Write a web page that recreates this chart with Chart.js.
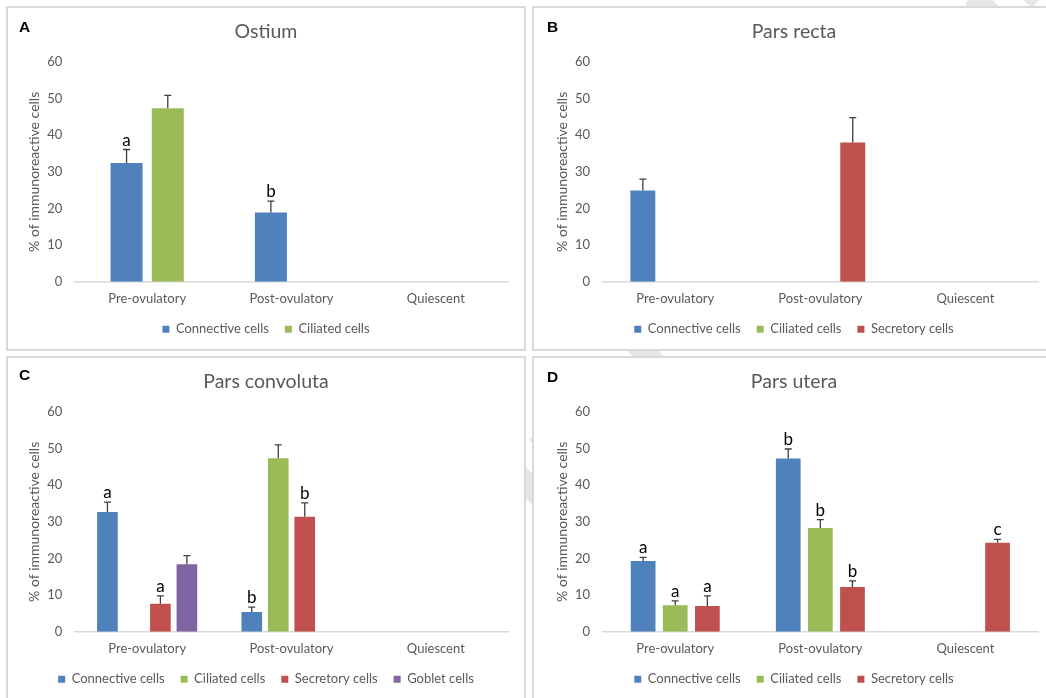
<!DOCTYPE html>
<html>
<head>
<meta charset="utf-8">
<script src="https://cdn.jsdelivr.net/npm/chart.js@4.4.0/dist/chart.umd.min.js"></script>
<style>
  html, body { margin: 0; padding: 0; background: #fff; }
  body { width: 1046px; height: 698px; position: relative; overflow: hidden; font-family: Lato, sans-serif; }
  .stripe {
    position: absolute; left: 744px; top: -265px; width: 50px; height: 1000px;
    transform: rotate(45deg);
    background: repeating-linear-gradient(to bottom, #e6e6e6 0 22px, transparent 22px 44px);
  }
  .panel { position: absolute; box-sizing: border-box; border: 2px solid #d9d9d9; background: #fff; }
  .panel canvas { position: absolute; left: 0; top: 0; }
  .tag { position: absolute; font: bold 15.5px "Liberation Sans", Arial, sans-serif; line-height: 15px; color: #000; }
</style>
</head>
<body>
<div class="stripe"></div>

<div class="panel" style="left:6px;top:6px;width:520px;height:345px;"><canvas id="chartA" width="516" height="341"></canvas></div>
<div class="panel" style="left:532px;top:6px;width:524px;height:345px;"><canvas id="chartB" width="520" height="341"></canvas></div>
<div class="panel" style="left:6px;top:356px;width:520px;height:360px;"><canvas id="chartC" width="516" height="341"></canvas></div>
<div class="panel" style="left:532px;top:356px;width:524px;height:360px;"><canvas id="chartD" width="520" height="341"></canvas></div>

<div class="tag" style="left:19px;top:19px;">A</div>
<div class="tag" style="left:547px;top:19px;">B</div>
<div class="tag" style="left:19px;top:367px;">C</div>
<div class="tag" style="left:547px;top:369px;">D</div>

<script>
const categories = ['Pre-ovulatory', 'Post-ovulatory', 'Quiescent'];

// A - Ostium
const ostiumConnective = [32.4, 18.9, null];
const ostiumConnectiveSE = [3.7, 3.1, null];
const ostiumConnectiveLetters = ['a', 'b', ''];
const ostiumCiliated = [47.4, null, null];
const ostiumCiliatedSE = [3.5, null, null];

// B - Pars recta
const rectaConnective = [24.9, null, null];
const rectaConnectiveSE = [3.1, null, null];
const rectaCiliated = [null, null, null];
const rectaSecretory = [null, 38.0, null];
const rectaSecretorySE = [null, 6.8, null];

// C - Pars convoluta
const convConnective = [32.7, 5.4, null];
const convConnectiveSE = [2.7, 1.3, null];
const convConnectiveLetters = ['a', 'b', ''];
const convCiliated = [null, 47.4, null];
const convCiliatedSE = [null, 3.6, null];
const convSecretory = [7.6, 31.4, null];
const convSecretorySE = [2.2, 3.8, null];
const convSecretoryLetters = ['a', 'b', ''];
const convGoblet = [18.4, null, null];
const convGobletSE = [2.4, null, null];

// D - Pars utera
const uteraConnective = [19.3, 47.3, null];
const uteraConnectiveSE = [1.0, 2.6, null];
const uteraConnectiveLetters = ['a', 'b', ''];
const uteraCiliated = [7.2, 28.3, null];
const uteraCiliatedSE = [1.2, 2.3, null];
const uteraCiliatedLetters = ['a', 'b', ''];
const uteraSecretory = [7.0, 12.2, 24.3];
const uteraSecretorySE = [2.8, 1.7, 0.9];
const uteraSecretoryLetters = ['a', 'b', 'c'];

const blue = '#4f81bd', green = '#9bbb59', red = '#c0504d', purple = '#8064a2';
const grey = '#595959';

Chart.defaults.font.family = 'Lato, sans-serif';
Chart.defaults.color = grey;

// upper error bars + significance letters, drawn from the bar elements
const errorBars = {
  id: 'errorBars',
  afterDatasetsDraw(chart) {
    const ctx = chart.ctx;
    const yScale = chart.scales.y;
    chart.data.datasets.forEach((ds, i) => {
      const meta = chart.getDatasetMeta(i);
      meta.data.forEach((bar, j) => {
        const v = ds.data[j];
        if (v == null) return;
        const se = ds.errors ? ds.errors[j] : null;
        const top = yScale.getPixelForValue(v + (se || 0));
        ctx.save();
        if (se) {
          ctx.strokeStyle = '#404040';
          ctx.lineWidth = 1.3;
          ctx.beginPath();
          ctx.moveTo(bar.x, bar.y);
          ctx.lineTo(bar.x, top);
          ctx.moveTo(bar.x - 3.5, top);
          ctx.lineTo(bar.x + 3.5, top);
          ctx.stroke();
        }
        const letter = ds.letters ? ds.letters[j] : '';
        if (letter) {
          ctx.fillStyle = '#000';
          ctx.font = '17px Lato, sans-serif';
          ctx.textAlign = 'center';
          ctx.textBaseline = 'alphabetic';
          ctx.fillText(letter, bar.x, top - 4);
        }
        ctx.restore();
      });
    });
  }
};

function series(label, data, color, errors, letters) {
  return { label: label, data: data, backgroundColor: color, borderWidth: 0, errors: errors, letters: letters };
}

function makeChart(id, title, datasets, catPct, barPct, yWidth, yTitlePad) {
  datasets.forEach(d => { d.categoryPercentage = catPct; d.barPercentage = barPct; });
  return new Chart(document.getElementById(id), {
    type: 'bar',
    data: { labels: categories, datasets: datasets },
    options: {
      responsive: false,
      animation: false,
      devicePixelRatio: 1,
      layout: { padding: { top: 0, left: 16, right: 16, bottom: 3.2 } },
      plugins: {
        tooltip: { enabled: false },
        title: {
          display: true,
          text: title,
          color: grey,
          font: { size: 19.5, weight: 'normal', lineHeight: 1.2 },
          padding: { top: 12.3, bottom: 18.3 }
        },
        legend: {
          position: 'bottom',
          labels: { boxWidth: 7, boxHeight: 7, padding: 16, color: grey, font: { size: 13 } }
        }
      },
      scales: {
        x: {
          grid: { display: true, drawOnChartArea: false, drawTicks: false },
          border: { display: true, color: '#d9d9d9', width: 1.5 },
          ticks: { padding: 9.5, color: grey, font: { size: 13 } },
          afterFit(s) { s.height = 25.1; }
        },
        y: {
          min: 0,
          max: 60,
          grid: { display: false, drawTicks: false },
          border: { display: false },
          ticks: { stepSize: 10, padding: 12.7, color: grey, font: { size: 13 } },
          title: {
            display: true,
            text: '% of immunoreactive cells',
            color: grey,
            font: { size: 14 },
            padding: { top: yTitlePad, bottom: 0 }
          },
          afterFit(s) { s.width = yWidth; }
        }
      }
    },
    plugins: [errorBars]
  });
}

makeChart('chartA', 'Ostium', [
  series('Connective cells', ostiumConnective, blue, ostiumConnectiveSE, ostiumConnectiveLetters),
  series('Ciliated cells', ostiumCiliated, green, ostiumCiliatedSE)
], 0.571, 0.777, 51, 2);

makeChart('chartB', 'Pars recta', [
  series('Connective cells', rectaConnective, blue, rectaConnectiveSE),
  series('Ciliated cells', rectaCiliated, green),
  series('Secretory cells', rectaSecretory, red, rectaSecretorySE)
], 0.67, 0.77, 52.7, 4.5);

makeChart('chartC', 'Pars convoluta', [
  series('Connective cells', convConnective, blue, convConnectiveSE, convConnectiveLetters),
  series('Ciliated cells', convCiliated, green, convCiliatedSE),
  series('Secretory cells', convSecretory, red, convSecretorySE, convSecretoryLetters),
  series('Goblet cells', convGoblet, purple, convGobletSE)
], 0.734, 0.78, 51, 2);

makeChart('chartD', 'Pars utera', [
  series('Connective cells', uteraConnective, blue, uteraConnectiveSE, uteraConnectiveLetters),
  series('Ciliated cells', uteraCiliated, green, uteraCiliatedSE, uteraCiliatedLetters),
  series('Secretory cells', uteraSecretory, red, uteraSecretorySE, uteraSecretoryLetters)
], 0.664, 0.77, 52.7, 4.5);
</script>
</body>
</html>
